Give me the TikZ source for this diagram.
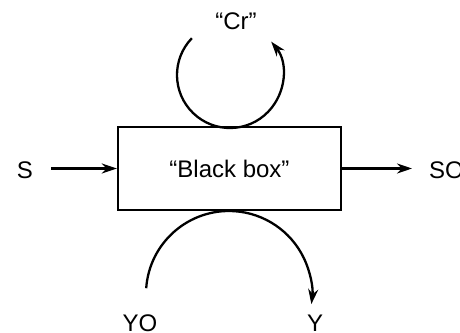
\documentclass[tikz,border=0pt]{standalone}
\usepackage{fontspec}
\setmainfont{Liberation Sans}
\usetikzlibrary{arrows.meta}
\begin{document}
\begin{tikzpicture}[x=1pt,y=1pt,line width=2.3pt,
  lbl/.style={font=\fontsize{24}{24}\selectfont,inner sep=0pt},
  flow/.style={-{Stealth[length=15pt,width=10pt]}}]
\useasboundingbox (0,0) rectangle (460,332);
% the box
\node[draw,lbl,minimum width=223pt,minimum height=83pt,text depth=0pt] (box) at (229.5,163.5) {“Black box”};
% inputs and outputs
\node[lbl,anchor=base] (s) at (25,153) {S};
\node[lbl,anchor=base west] (so) at (428,153) {SO};
\node[lbl,anchor=base] (cr) at (236,302) {“Cr”};
\node[lbl,anchor=base] (yo) at (140,0.5) {YO};
\node[lbl,anchor=base] (y) at (315,0.5) {Y};
\draw[flow] ([xshift=17pt]s.east |- box.center) -- (box.west);
\draw[flow] (box.east) -- ([xshift=-16pt]so.west |- box.center);
% feedback loop above the box
\coordinate (crc) at (230,257);
\draw[flow] (crc) ++(136:53) arc[start angle=136,end angle=399,radius=53];
% loop below the box
\coordinate (yc) at (229,38);
\draw[flow] (yc) ++(176:83) arc[start angle=176,end angle=-7,radius=83];
\end{tikzpicture}
\end{document}
